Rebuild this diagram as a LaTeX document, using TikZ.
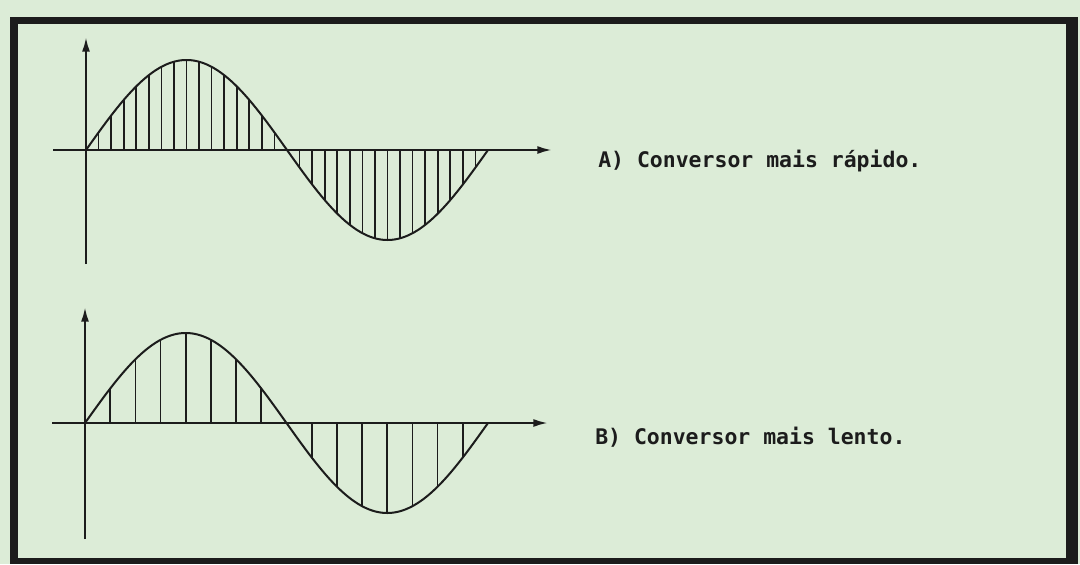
\documentclass[tikz,border=0pt]{standalone}
\usepackage{fontspec}
\newfontfamily\dotfont{DejaVu Sans Mono}
\usetikzlibrary{arrows.meta}
\definecolor{paper}{RGB}{220,236,215}
\definecolor{ink}{RGB}{28,28,28}
\begin{document}
\begin{tikzpicture}[x=0.75pt,y=-0.75pt,
  axis/.style={draw=ink,line width=1.7pt,-{Latex[length=11pt,width=6pt]}},
  wave/.style={draw=ink,line width=1.5pt,line join=round},
  sample/.style={draw=ink,line width=1.3pt},
  lbl/.style={font=\dotfont\bfseries\fontsize{16.1}{19}\selectfont,text=ink,inner sep=0pt,anchor=base west}]
\fill[paper] (0,0) rectangle (1080,564);
\useasboundingbox (0,0) rectangle (1080,564);
% frame
\fill[ink] (10,17) rectangle (18,564);
\fill[ink] (10,17) rectangle (1078,24);
\fill[ink] (1066,17) rectangle (1078,564);
\fill[ink] (10,558) rectangle (1078,564);
% ---------- graph A (fast converter) ----------
\coordinate (Ao) at (86,150);
\coordinate (Aybot) at (86,264);
\coordinate (Aytop) at (86,37);
\coordinate (Axl) at (53,150);
\coordinate (Axr) at (552,150);
\draw[axis] (Aybot) -- (Aytop);
\draw[axis] (Axl) -- (Axr);
\draw[wave] plot[domain=0:360,samples=181] ({86+\x/360*402},{150-90*sin(\x)});
\foreach \i in {1,...,15,17,18,...,31}
  \draw[sample] ({86+\i/32*402},150) -- ({86+\i/32*402},{150-90*sin(\i*11.25)});
\node[lbl] (labA) at (598,167) {A) Conversor mais rápido.};
% ---------- graph B (slow converter) ----------
\coordinate (Bo) at (85,423);
\coordinate (Bybot) at (85,539);
\coordinate (Bytop) at (85,307);
\coordinate (Bxl) at (52,423);
\coordinate (Bxr) at (548,423);
\draw[axis] (Bybot) -- (Bytop);
\draw[axis] (Bxl) -- (Bxr);
\draw[wave] plot[domain=0:360,samples=181] ({85+\x/360*403},{423-90*sin(\x)});
\foreach \i in {1,...,7,9,10,...,15}
  \draw[sample] ({85+\i/16*403},423) -- ({85+\i/16*403},{423-90*sin(\i*22.5)});
\node[lbl] (labB) at (595,444) {B) Conversor mais lento.};
\end{tikzpicture}
\end{document}
